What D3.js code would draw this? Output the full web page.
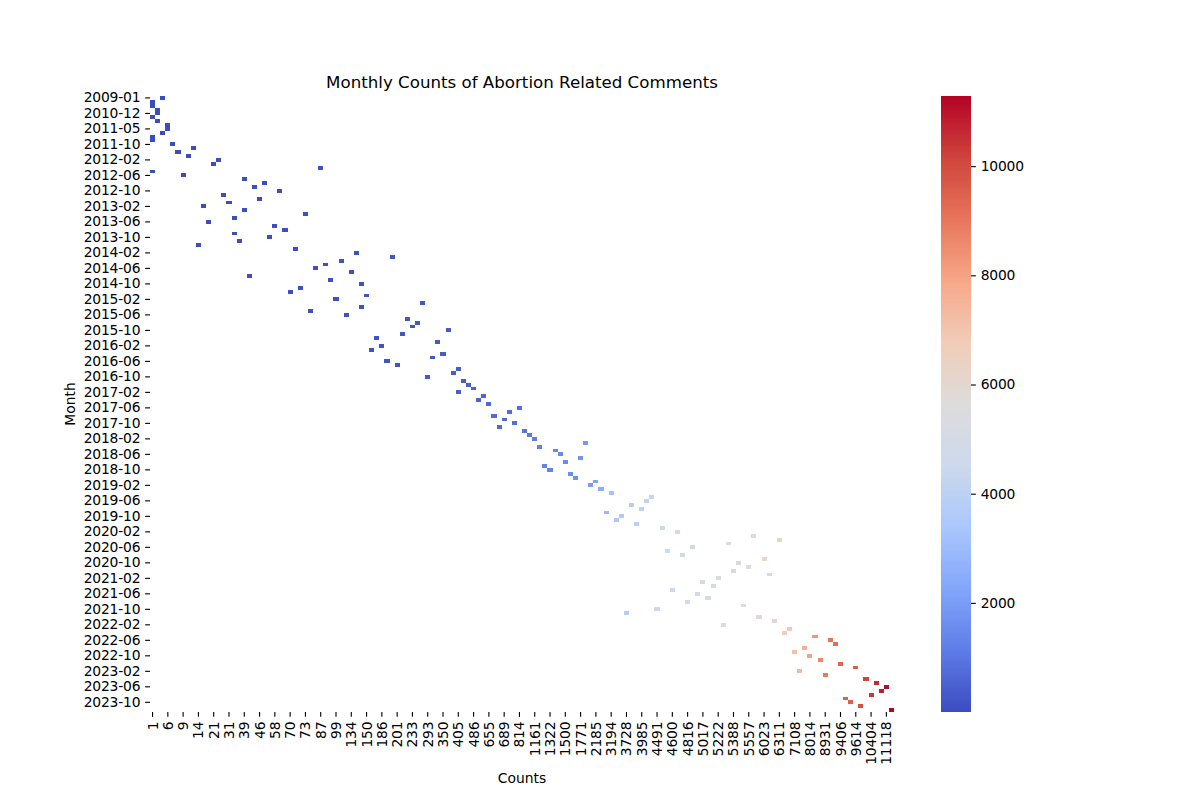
<!DOCTYPE html>
<html>
<head>
<meta charset="utf-8">
<script src="https://cdn.jsdelivr.net/npm/d3@7"></script>
<style>
  body { margin: 0; background: #fff; }
  text { font-family: "DejaVu Sans", sans-serif; fill: #000; }
</style>
</head>
<body>
<script>
// Set canvas dimensions
const canvasWidth = 1200;
const canvasHeight = 800;

// Months on the y axis (the table skips a few early months)
const months = [
  "2009-01", "2009-06", "2010-03", "2010-09", "2010-12",
  "2011-01", "2011-02", "2011-03", "2011-05", "2011-06", "2011-07", "2011-08", "2011-10", "2011-11", "2011-12",
  "2012-01", "2012-02", "2012-03", "2012-04", "2012-05", "2012-06", "2012-07", "2012-08", "2012-09", "2012-10", "2012-11", "2012-12",
  "2013-01", "2013-02", "2013-03", "2013-04", "2013-05", "2013-06", "2013-07", "2013-08", "2013-09", "2013-10", "2013-11", "2013-12",
  "2014-01", "2014-02", "2014-03", "2014-04", "2014-05", "2014-06", "2014-07", "2014-08", "2014-09", "2014-10", "2014-11", "2014-12",
  "2015-01", "2015-02", "2015-03", "2015-04", "2015-05", "2015-06", "2015-07", "2015-08", "2015-09", "2015-10", "2015-11", "2015-12",
  "2016-01", "2016-02", "2016-03", "2016-04", "2016-05", "2016-06", "2016-07", "2016-08", "2016-09", "2016-10", "2016-11", "2016-12",
  "2017-01", "2017-02", "2017-03", "2017-04", "2017-05", "2017-06", "2017-07", "2017-08", "2017-09", "2017-10", "2017-11", "2017-12",
  "2018-01", "2018-02", "2018-03", "2018-04", "2018-05", "2018-06", "2018-07", "2018-08", "2018-09", "2018-10", "2018-11", "2018-12",
  "2019-01", "2019-02", "2019-03", "2019-04", "2019-05", "2019-06", "2019-07", "2019-08", "2019-09", "2019-10", "2019-11", "2019-12",
  "2020-01", "2020-02", "2020-03", "2020-04", "2020-05", "2020-06", "2020-07", "2020-08", "2020-09", "2020-10", "2020-11", "2020-12",
  "2021-01", "2021-02", "2021-03", "2021-04", "2021-05", "2021-06", "2021-07", "2021-08", "2021-09", "2021-10", "2021-11", "2021-12",
  "2022-01", "2022-02", "2022-03", "2022-04", "2022-05", "2022-06", "2022-07", "2022-08", "2022-09", "2022-10", "2022-11", "2022-12",
  "2023-01", "2023-02", "2023-03", "2023-04", "2023-05", "2023-06", "2023-07", "2023-08", "2023-09", "2023-10", "2023-11", "2023-12",
];

// Comment count of each month, same order as months
const monthlyCounts = [
  4, 1, 1, 2, 2, 1, 2, 6, 6, 4, 1, 1, 7, 12, 8, 10,
  24, 21, 87, 1, 9, 39, 50, 44, 62, 28, 46,
  31, 16, 39, 73, 34, 19, 58, 67, 34, 54, 36, 14,
  71, 141, 197, 112, 91, 83, 134, 41, 95, 146, 72, 70,
  150, 99, 275, 146, 78, 124, 224, 251, 233, 369, 212, 175,
  332, 186, 163, 350, 310, 192, 201, 405, 388, 293, 431, 462,
  486, 405, 602, 540, 655, 814, 732, 664, 689, 770, 677, 925,
  1050, 1161, 1905, 1210, 1380, 1445, 1771, 1500, 1270, 1322, 1590, 1680,
  2185, 2050, 2500, 3194, 4325, 4150, 3815, 3985, 2860, 3555, 3370, 3900,
  4530, 4670, 5710, 6311, 5330, 4880, 4565, 4745, 6023, 5445, 5557, 5388,
  6120, 5222, 5017, 5150, 4600, 4955, 5085, 4816, 5500, 4491, 3728, 5870,
  6215, 5280, 6840, 6580, 8320, 9090, 9250, 7710, 7108, 8014, 8620, 9406,
  9614, 7410, 8931, 10140, 10640, 11118, 10880, 10404, 9475, 9545, 9880, 11285,
];

const colorbarTicks = [2000, 4000, 6000, 8000, 10000];

// matplotlib coolwarm, sampled every tenth
const coolwarmStops = [
  "#3b4cc0", "#5e7de7", "#82a6fb", "#aac7fd", "#cdd9ec", "#dddcdc",
  "#f1ccb8", "#f7a889", "#e8765c", "#cf453c", "#b40426",
];

const plot = { left: 150, right: 894, top: 96, bottom: 712 };
const bar = { left: 941, right: 971 };
const tickLength = 4.86; // 3.5pt at dpi 100

// Columns are the distinct counts, in order
const countColumns = Array.from(new Set(monthlyCounts)).sort(d3.ascending);
const cells = months.map((month, i) => ({ month, count: monthlyCounts[i] }));

const xScale = d3.scaleBand().domain(countColumns).range([plot.left, plot.right]);
const yScale = d3.scaleBand().domain(months).range([plot.top, plot.bottom]);
const countExtent = d3.extent(monthlyCounts);
const colorScale = d3
  .scaleSequential(d3.piecewise(d3.interpolateRgb, coolwarmStops))
  .domain(countExtent);

const mainSvg = d3
  .select("body")
  .append("svg")
  .attr("width", canvasWidth)
  .attr("height", canvasHeight)
  .style("display", "block");

// Heatmap cells, edges snapped to whole pixels
mainSvg
  .append("g")
  .selectAll("rect")
  .data(cells)
  .enter()
  .append("rect")
  .attr("x", (d) => Math.round(xScale(d.count)))
  .attr("y", (d) => Math.round(yScale(d.month)))
  .attr("width", (d) => Math.round(xScale(d.count) + xScale.bandwidth()) - Math.round(xScale(d.count)))
  .attr("height", (d) => Math.round(yScale(d.month) + yScale.bandwidth()) - Math.round(yScale(d.month)))
  .attr("fill", (d) => colorScale(d.count))
  .attr("shape-rendering", "crispEdges");

// Axes, seaborn labels every 3rd column and every 4th row
const xAxis = d3
  .axisBottom(xScale)
  .tickValues(countColumns.filter((d, i) => i % 3 === 0))
  .tickSize(tickLength)
  .tickPadding(tickLength);
const yAxis = d3
  .axisLeft(yScale)
  .tickValues(months.filter((d, i) => i % 4 === 0))
  .tickSize(tickLength)
  .tickPadding(tickLength);

function styleAxis(g) {
  g.select(".domain").remove();
  g.selectAll("line").attr("stroke", "#000").attr("stroke-width", 1.11);
  g.selectAll("text")
    .style("font-size", "13.89px")
    .style("font-family", '"DejaVu Sans"')
    .style("letter-spacing", "-0.2px");
}

const xAxisG = mainSvg
  .append("g")
  .attr("transform", `translate(0,${plot.bottom})`)
  .call(xAxis)
  .call(styleAxis);
xAxisG
  .selectAll("text")
  .attr("transform", "rotate(-90)")
  .attr("text-anchor", "end")
  .attr("x", -2 * tickLength)
  .attr("y", 0)
  .attr("dy", "0.36em");

mainSvg
  .append("g")
  .attr("transform", `translate(${plot.left},0)`)
  .call(yAxis)
  .call(styleAxis);

// Title and axis labels
mainSvg
  .append("text")
  .attr("x", (plot.left + plot.right) / 2)
  .attr("y", plot.top - 8.3)
  .attr("text-anchor", "middle")
  .style("font-size", "16.67px")
  .text("Monthly Counts of Abortion Related Comments");

mainSvg
  .append("text")
  .attr("x", (plot.left + plot.right) / 2)
  .attr("y", 783)
  .attr("text-anchor", "middle")
  .style("font-size", "13.89px")
  .text("Counts");

mainSvg
  .append("text")
  .attr("transform", `translate(75,${(plot.top + plot.bottom) / 2}) rotate(-90)`)
  .attr("text-anchor", "middle")
  .style("font-size", "13.89px")
  .text("Month");

// Colorbar
const barScale = d3.scaleLinear().domain(countExtent).range([plot.bottom, plot.top]);
const barLevels = d3.range(256).map((i) => countExtent[0] + (i / 255) * (countExtent[1] - countExtent[0]));
const barBand = d3.scaleBand().domain(barLevels).range([plot.bottom, plot.top]);

mainSvg
  .append("g")
  .selectAll("rect")
  .data(barLevels)
  .enter()
  .append("rect")
  .attr("x", bar.left)
  .attr("y", (d) => barBand(d))
  .attr("width", bar.right - bar.left)
  .attr("height", (d) => Math.min(barBand.bandwidth() + 0.5, plot.bottom - barBand(d)))
  .attr("fill", (d) => colorScale(d))
  .attr("shape-rendering", "crispEdges");

mainSvg
  .append("g")
  .attr("transform", `translate(${bar.right},0)`)
  .call(d3.axisRight(barScale).tickValues(colorbarTicks).tickFormat(d3.format("d")).tickSize(tickLength).tickPadding(tickLength))
  .call(styleAxis);
</script>
</body>
</html>
